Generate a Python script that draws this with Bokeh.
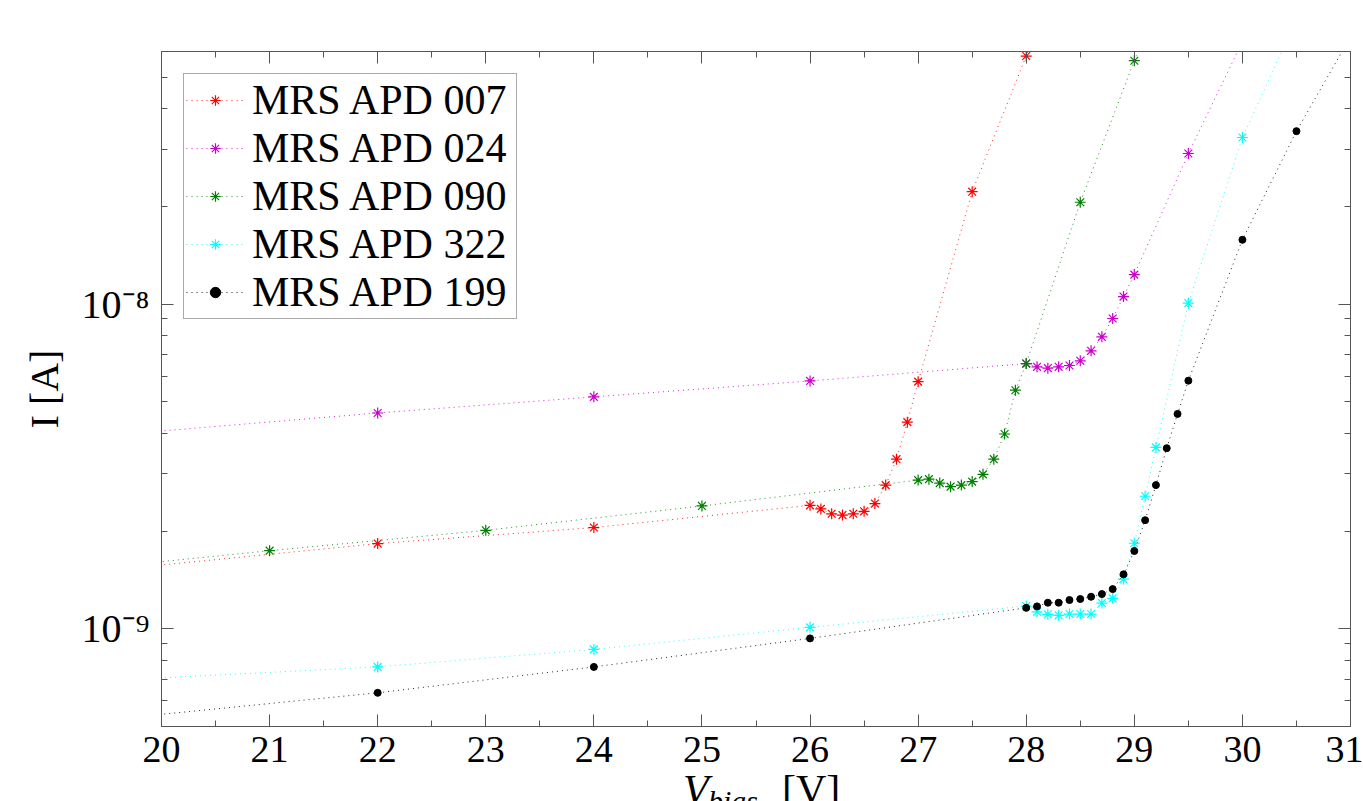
from bokeh.plotting import figure
from bokeh.embed import file_html
from bokeh.resources import INLINE
from bokeh.layouts import column
from bokeh.models import (LogAxis, LinearAxis, FixedTicker, CustomJSTickFormatter,
                          Legend, LegendItem, Range1d, Div)

# ---------------- data ----------------
v_007 = [18, 22, 24, 26, 26.1, 26.2, 26.3, 26.4, 26.5, 26.6, 26.7, 26.8, 26.9, 27, 27.5, 28, 28.5]
i_007 = [1.35e-9, 1.83e-9, 2.05e-9, 2.40e-9, 2.34e-9, 2.26e-9, 2.24e-9, 2.26e-9, 2.30e-9,
         2.43e-9, 2.77e-9, 3.33e-9, 4.33e-9, 5.77e-9, 2.22e-8, 5.81e-8, 1.6e-7]

v_024 = [18, 22, 24, 26, 28, 28.1, 28.2, 28.3, 28.4, 28.5, 28.6, 28.7, 28.8, 28.9, 29, 29.5, 30]
i_024 = [3.58e-9, 4.62e-9, 5.18e-9, 5.80e-9, 6.56e-9, 6.41e-9, 6.35e-9, 6.41e-9, 6.47e-9,
         6.69e-9, 7.18e-9, 7.93e-9, 9.03e-9, 1.055e-8, 1.233e-8, 2.91e-8, 6.44e-8]

v_090 = [19, 21, 23, 25, 27, 27.1, 27.2, 27.3, 27.4, 27.5, 27.6, 27.7, 27.8, 27.9, 28, 28.5, 29, 29.5]
i_090 = [1.49e-9, 1.74e-9, 2.01e-9, 2.39e-9, 2.87e-9, 2.89e-9, 2.81e-9, 2.74e-9, 2.77e-9,
         2.84e-9, 2.99e-9, 3.33e-9, 3.98e-9, 5.43e-9, 6.56e-9, 2.06e-8, 5.62e-8, 1.5e-7]

v_322 = [18, 22, 24, 26, 28, 28.1, 28.2, 28.3, 28.4, 28.5, 28.6, 28.7, 28.8, 28.9, 29, 29.1, 29.2,
         29.5, 30, 30.5]
i_322 = [6.53e-10, 7.63e-10, 8.64e-10, 1.01e-9, 1.175e-9, 1.128e-9, 1.108e-9, 1.10e-9, 1.11e-9,
         1.11e-9, 1.11e-9, 1.20e-9, 1.241e-9, 1.422e-9, 1.834e-9, 2.56e-9, 3.62e-9,
         1.007e-8, 3.26e-8, 7.52e-8]

v_199 = [18, 22, 24, 26, 28, 28.1, 28.2, 28.3, 28.4, 28.5, 28.6, 28.7, 28.8, 28.9, 29, 29.1, 29.2,
         29.3, 29.4, 29.5, 30, 30.5, 31]
i_199 = [4.68e-10, 6.35e-10, 7.63e-10, 9.34e-10, 1.16e-9, 1.172e-9, 1.203e-9, 1.203e-9, 1.226e-9,
         1.235e-9, 1.255e-9, 1.279e-9, 1.325e-9, 1.471e-9, 1.736e-9, 2.16e-9, 2.77e-9,
         3.60e-9, 4.59e-9, 5.81e-9, 1.578e-8, 3.41e-8, 6.66e-8]

series_names = ["MRS APD 007", "MRS APD 024", "MRS APD 090", "MRS APD 322", "MRS APD 199"]
series_colors = ["#ff0000", "#cc00cc", "#008000", "#00ffff", "#000000"]
series_markers = ["asterisk", "asterisk", "asterisk", "asterisk", "circle"]

x_ticks = [20, 21, 22, 23, 24, 25, 26, 27, 28, 29, 30, 31]
x_minor = [20.5, 21.5, 22.5, 23.5, 24.5, 25.5, 26.5, 27.5, 28.5, 29.5, 30.5]
y_ticks = [1e-9, 1e-8]
y_minor = [5e-10, 6e-10, 7e-10, 8e-10, 9e-10,
           2e-9, 3e-9, 4e-9, 5e-9, 6e-9, 7e-9, 8e-9, 9e-9,
           2e-8, 3e-8, 4e-8, 5e-8, 6e-8]
x_lim = (20, 31)
y_lim = (5e-10, 6e-8)

SERIF = "Liberation Serif"

# ---------------- figure ----------------
p = figure(width=1363, height=775, y_axis_type="log",
           x_range=Range1d(*x_lim), y_range=Range1d(*y_lim),
           output_backend="svg", toolbar_location=None,
           min_border_left=161, min_border_right=13, min_border_top=51, min_border_bottom=49,
           margin=0)
p.xgrid.visible = False
p.ygrid.visible = False
p.outline_line_color = "#555555"
p.background_fill_color = "white"
p.border_fill_color = "white"

xt = FixedTicker(ticks=x_ticks, minor_ticks=x_minor)
yt = FixedTicker(ticks=y_ticks, minor_ticks=y_minor)

sup_fmt = CustomJSTickFormatter(code="""
const e = Math.round(Math.log10(tick));
const m = {'-':'\\u207B','0':'\\u2070','1':'\\u00B9','2':'\\u00B2','3':'\\u00B3','4':'\\u2074',
           '5':'\\u2075','6':'\\u2076','7':'\\u2077','8':'\\u2078','9':'\\u2079'};
return '10' + String(e).split('').map(c => m[c]).join('');
""")
blank = CustomJSTickFormatter(code="return '';")

def style_axis(ax):
    ax.axis_line_color = "#555555"
    ax.major_tick_line_color = "#555555"
    ax.minor_tick_line_color = "#555555"
    ax.major_tick_in = 12
    ax.major_tick_out = 0
    ax.minor_tick_in = 6
    ax.minor_tick_out = 0
    ax.major_label_text_font = SERIF
    ax.major_label_text_font_size = "38px"
    ax.major_label_text_color = "black"

xa = p.xaxis[0]
xa.ticker = xt
style_axis(xa)
xa.major_label_standoff = 10
xa.major_label_text_line_height = 1.0

ya = p.yaxis[0]
ya.ticker = yt
ya.formatter = sup_fmt
style_axis(ya)
ya.major_label_text_font_size = "40px"
ya.major_label_standoff = 12
ya.axis_label = "I [A]"
ya.axis_label_text_font = SERIF
ya.axis_label_text_font_size = "40px"
ya.axis_label_text_font_style = "normal"
ya.axis_label_text_color = "black"
ya.axis_label_standoff = 12

top_ax = LinearAxis(ticker=xt, formatter=blank)
style_axis(top_ax)
p.add_layout(top_ax, "above")
right_ax = LogAxis(ticker=yt, formatter=blank)
style_axis(right_ax)
p.add_layout(right_ax, "right")

# ---------------- series ----------------
xs_all = [v_007, v_024, v_090, v_322, v_199]
ys_all = [i_007, i_024, i_090, i_322, i_199]
items = []
for name, xs, ys, col, mk in zip(series_names, xs_all, ys_all, series_colors, series_markers):
    lr = p.line(xs, ys, line_color=col, line_width=1, line_dash="1 4", line_alpha=0.85)
    if mk == "circle":
        sr = p.scatter(xs, ys, marker="circle", size=7, fill_color=col, line_color=col)
    else:
        sr = p.scatter(xs, ys, marker="asterisk", size=11, line_color=col, line_width=1.2)
    items.append(LegendItem(label=name, renderers=[lr, sr]))

legend = Legend(items=items, location="top_left", margin=22, padding=2, spacing=0,
                label_text_font=SERIF, label_text_font_size="42px", label_text_color="black",
                label_height=45, label_width=262, glyph_height=26, glyph_width=58, label_standoff=8,
                border_line_color="#555555", border_line_width=1,
                background_fill_color="white", background_fill_alpha=1)
p.add_layout(legend)

# ---------------- x axis label (V_bias [V]), cut by the window like the reference ----------------
xlabel_html = (
    '<div style="position:relative;width:1363px;height:26px;overflow:hidden;'
    'font-family:\'Liberation Serif\',serif;color:black;background:white;">'
    '<span style="position:absolute;left:683px;top:-6px;font-size:42px;line-height:1;'
    'font-style:italic;white-space:nowrap;">V</span>'
    '<span style="position:absolute;left:708px;top:11px;font-size:30px;line-height:1;'
    'font-style:italic;white-space:nowrap;">bias</span>'
    '<span style="position:absolute;left:782px;top:-6px;font-size:42px;line-height:1;'
    'white-space:nowrap;">[V]</span>'
    '</div>'
)
xlabel = Div(text=xlabel_html, width=1363, height=26, margin=0,
             styles={"overflow": "hidden"})

layout = column(p, xlabel, spacing=0)
open("out.html", "w", encoding="utf-8").write(file_html(layout, INLINE))
